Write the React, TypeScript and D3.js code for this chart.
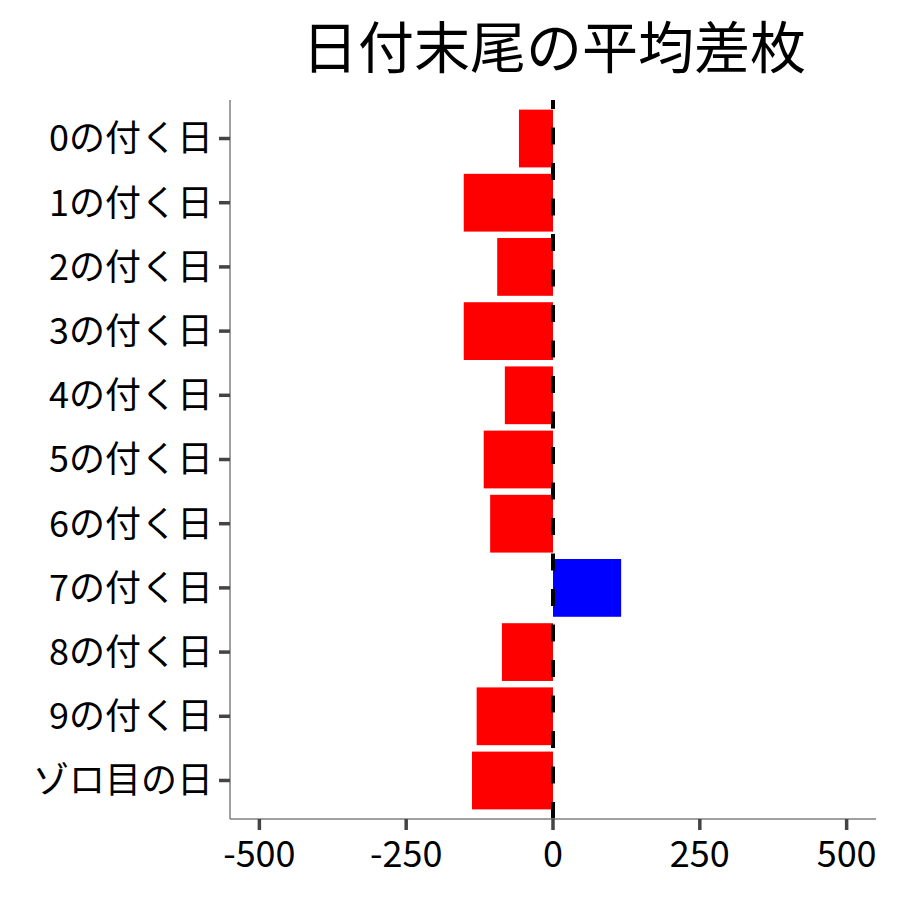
import React from 'react';
import * as d3 from 'd3';

// 日付末尾ごとの平均差枚
const categories = [
  '0の付く日', '1の付く日', '2の付く日', '3の付く日', '4の付く日', '5の付く日',
  '6の付く日', '7の付く日', '8の付く日', '9の付く日', 'ゾロ目の日',
];
const avgDiff = [-58, -152, -95, -152, -82, -118, -107, 116, -87, -130, -138];
const xTicks = [-500, -250, 0, 250, 500];
const title = '日付末尾の平均差枚';

const W = 900;
const H = 900;
const FONT = '"Noto Sans CJK JP", "Noto Sans", sans-serif';

export default function App() {
  const left = 230;
  const right = 876;
  const top = 100;
  const bottom = 819;

  const x = d3.scaleLinear().domain([-550, 550]).range([left, right]);
  const y = d3.scaleBand<string>()
    .domain(categories)
    .range([top, bottom])
    .paddingInner(0.1)
    .paddingOuter(0.15);

  const rows = categories.map((c, i) => ({ cat: c, value: avgDiff[i] }));

  return (
    <svg width={W} height={H} style={{ position: 'absolute', left: 0, top: 0, background: '#fff' }}
      fontFamily={FONT}>
      <rect width={W} height={H} fill="#fff" />

      <text x={(left + right) / 2 + 1} y={68} textAnchor="middle" fontSize={56} fill="#000">{title}</text>

      {/* bars */}
      {rows.map(d => (
        <rect key={d.cat}
          x={Math.min(x(0), x(d.value))}
          y={y(d.cat)!}
          width={Math.abs(x(d.value) - x(0))}
          height={y.bandwidth()}
          fill={d.value < 0 ? '#ff0000' : '#0000ff'} />
      ))}

      {/* zero line */}
      <line x1={x(0)} x2={x(0)} y1={bottom} y2={top}
        stroke="#000" strokeWidth={4} strokeDasharray="17,18.5" />

      {/* y axis */}
      <line x1={left} x2={left} y1={top} y2={bottom} stroke="#808080" strokeWidth={1.5} />
      {categories.map(c => {
        const cy = y(c)! + y.bandwidth() / 2;
        return (
          <g key={c}>
            <line x1={left - 11} x2={left} y1={cy} y2={cy} stroke="#444" strokeWidth={3.5} />
            <text x={213} y={cy} dy="0.36em" textAnchor="end" fontSize={36} fill="#000">{c}</text>
          </g>
        );
      })}

      {/* x axis */}
      <line x1={left} x2={right} y1={bottom} y2={bottom} stroke="#808080" strokeWidth={1.5} />
      {xTicks.map(t => (
        <g key={t}>
          <line x1={x(t)} x2={x(t)} y1={bottom} y2={bottom + 11} stroke="#444" strokeWidth={3.5} />
          <text x={x(t)} y={867} textAnchor="middle" fontSize={36} fill="#000">{t}</text>
        </g>
      ))}
    </svg>
  );
}
